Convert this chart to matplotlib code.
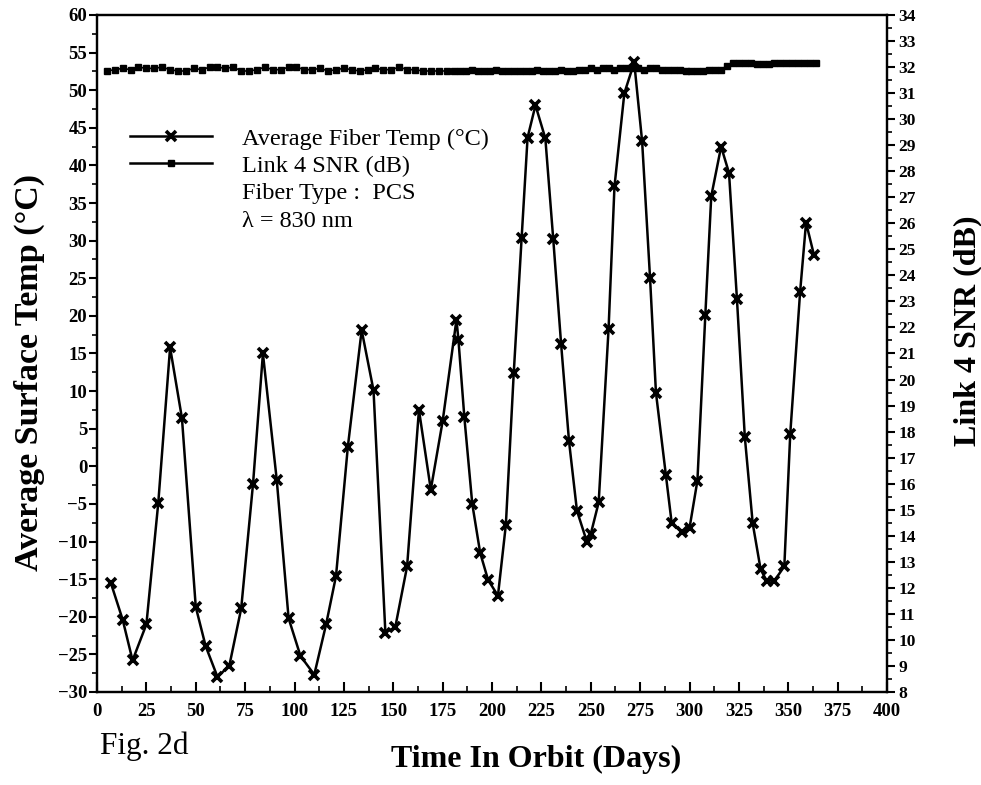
import matplotlib
matplotlib.use("Agg")
import matplotlib.pyplot as plt
from matplotlib.lines import Line2D
from matplotlib.ticker import MultipleLocator

plt.rcParams['font.family'] = ['Liberation Serif', 'DejaVu Serif']

# Average fiber temperature (deg C) vs time in orbit (days)
temp_days = [7, 13, 18, 25, 31, 37, 43, 50, 55, 61, 67, 73, 79, 84, 91,
             97, 103, 110, 116, 121, 127, 134, 140, 146, 151, 157, 163, 169, 175, 182,
             183, 186, 190, 194, 198, 203, 207, 211, 215, 218, 222, 227, 231, 235, 239,
             243, 248, 250, 254, 259, 262, 267, 272, 276, 280, 283, 288, 291, 296, 300,
             304, 308, 311, 316, 320, 324, 328, 332, 336, 339, 343, 348, 351, 356, 359, 363]
temps = [-15.5, -20.4, -25.8, -21.0, -4.9, 15.8, 6.4, -18.7, -23.9, -28.0, -26.5, -18.9, -2.3, 15.0, -1.8,
         -20.2, -25.2, -27.7, -21.0, -14.6, 2.6, 18.1, 10.1, -22.1, -21.4, -13.3, 7.5, -3.1, 6.0, 19.5,
         16.8, 6.5, -5.0, -11.5, -15.1, -17.2, -7.8, 12.4, 30.4, 43.7, 48.0, 43.6, 30.2, 16.2, 3.3,
         -5.9, -10.0, -9.0, -4.8, 18.2, 37.2, 49.6, 53.7, 43.2, 25.1, 9.8, -1.1, -7.6, -8.7, -8.2,
         -1.9, 20.1, 35.9, 42.5, 39.0, 22.3, 3.9, -7.6, -13.7, -15.2, -15.2, -13.3, 4.3, 23.2, 32.4, 28.1]

# Link 4 SNR (dB)
snr_days = [5, 9, 13, 17, 21, 25, 29, 33, 37, 41, 45, 49, 53, 57, 61,
            65, 69, 73, 77, 81, 85, 89, 93, 97, 101, 105, 109, 113, 117, 121,
            125, 129, 133, 137, 141, 145, 149, 153, 157, 161, 165, 169, 173, 177, 181,
            184, 187, 190, 193, 196, 199, 202, 205, 208, 211, 214, 217, 220, 223, 226,
            229, 232, 235, 238, 241, 244, 247, 250, 253, 256, 259, 262, 265, 268, 271,
            274, 277, 280, 283, 286, 289, 292, 295, 298, 301, 304, 307, 310, 313, 316,
            319, 322, 325, 328, 331, 334, 337, 340, 343, 346, 349, 352, 355, 358, 361, 364]
snr = [31.85, 31.9, 31.95, 31.9, 32.0, 31.95, 31.95, 32.0, 31.9, 31.85, 31.85, 31.95, 31.9, 32.0, 32.0,
       31.95, 32.0, 31.85, 31.85, 31.9, 32.0, 31.9, 31.9, 32.0, 32.0, 31.9, 31.9, 31.95, 31.85, 31.9,
       31.95, 31.9, 31.85, 31.9, 31.95, 31.9, 31.9, 32.0, 31.9, 31.9, 31.85, 31.85, 31.85, 31.85, 31.85,
       31.85, 31.85, 31.9, 31.85, 31.85, 31.85, 31.9, 31.85, 31.85, 31.85, 31.85, 31.85, 31.85, 31.9, 31.85,
       31.85, 31.85, 31.9, 31.85, 31.85, 31.9, 31.9, 31.95, 31.9, 31.95, 31.95, 31.9, 31.95, 31.95, 31.95,
       31.95, 31.9, 31.95, 31.95, 31.9, 31.9, 31.9, 31.9, 31.85, 31.85, 31.85, 31.85, 31.9, 31.9, 31.9,
       32.05, 32.15, 32.15, 32.15, 32.15, 32.1, 32.1, 32.1, 32.15, 32.15, 32.15, 32.15, 32.15, 32.15, 32.15, 32.15]

fig = plt.figure(figsize=(9.81, 7.85), dpi=100)
ax = fig.add_axes([0.0989, 0.1185, 0.8053, 0.8624])
ax2 = ax.twinx()

ax.plot(temp_days, temps, color='black', lw=1.8, marker='x', ms=7, mew=2.6)
ax2.plot(snr_days, snr, color='black', lw=1.2, marker='s', ms=5)

ax.set_xlim(0, 400)
ax.set_ylim(-30, 60)
ax2.set_ylim(8, 34)

ax.xaxis.set_major_locator(MultipleLocator(25))
ax.xaxis.set_minor_locator(MultipleLocator(12.5))
ax.yaxis.set_major_locator(MultipleLocator(5))
ax.yaxis.set_minor_locator(MultipleLocator(2.5))
ax2.yaxis.set_major_locator(MultipleLocator(1))
ax2.yaxis.set_minor_locator(MultipleLocator(0.5))

ax.tick_params(axis='x', which='both', direction='in', top=False, pad=8)
ax.tick_params(axis='x', which='major', length=7, width=1.5)
ax.tick_params(axis='x', which='minor', length=4, width=1.2)
ax.tick_params(axis='y', which='both', direction='out', pad=1)
ax.tick_params(axis='y', which='major', length=6, width=1.5)
ax.tick_params(axis='y', which='minor', length=3.5, width=1.2)
ax2.tick_params(axis='y', which='major', direction='out', length=6, width=1.5, pad=2)
ax2.tick_params(axis='y', which='minor', direction='out', length=3.5, width=1.2)

for lab in ax.get_xticklabels() + ax.get_yticklabels():
    lab.set_fontweight('bold')
    lab.set_fontsize(13.5)
for lab in ax2.get_yticklabels():
    lab.set_fontweight('bold')
    lab.set_fontsize(12.5)

for a in (ax, ax2):
    for s in a.spines.values():
        s.set_linewidth(1.6)

ax.set_ylabel('Average Surface Temp (°C)', fontsize=24.5, fontweight='bold')
ax.yaxis.set_label_coords(-0.066, 0.472)
ax2.set_ylabel('Link 4 SNR (dB)', fontsize=23, fontweight='bold')
ax2.yaxis.set_label_coords(1.0835, 0.533)

fig.text(0.547, 0.032, 'Time In Orbit (Days)', fontsize=23, fontweight='bold',
         ha='center', va='center')
fig.text(0.102, 0.0395, 'Fig. 2d', fontsize=22.5, va='baseline')

handles = [Line2D([], [], color='black', lw=1.8, marker='x', ms=7, mew=2.6),
           Line2D([], [], color='black', lw=1.8, marker='s', ms=5),
           Line2D([], [], color='none'),
           Line2D([], [], color='none')]
labels = ['Average Fiber Temp (°C)', 'Link 4 SNR (dB)', 'Fiber Type :  PCS', 'λ = 830 nm']
ax.legend(handles, labels, loc='upper left', bbox_to_anchor=(0.0137, 0.866), frameon=False,
          fontsize=17.5, handlelength=3.4, handletextpad=1.2, labelspacing=0.22)

fig.savefig('out.png', dpi=100)
